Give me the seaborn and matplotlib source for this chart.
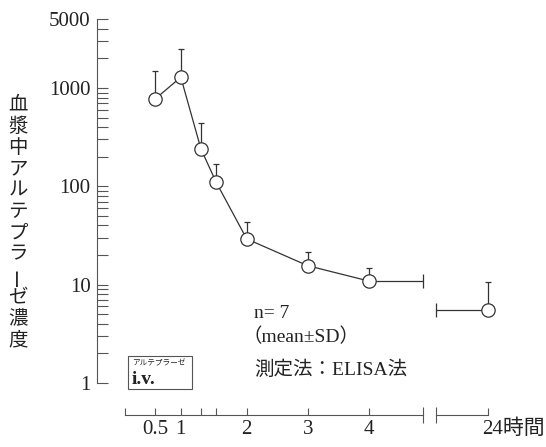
import numpy as np
import matplotlib
matplotlib.use("Agg")
import matplotlib.pyplot as plt
from matplotlib.patches import Rectangle
from matplotlib.ticker import FixedLocator, NullFormatter
import seaborn as sns

# ---- data ----
times = [0.5, 0.92, 1.25, 1.5, 2, 3, 4]            # hours
conc = [774, 1288, 240, 110, 29.2, 15.6, 10.9]      # plasma concentration
conc_sd = [708, 1195, 198, 60, 13.9, 5.8, 3.8]
times_24 = [24]
conc_24 = [5.53]
conc_24_sd = [5.07]

x_tick_pos = [0, 0.5, 0.92, 1.25, 1.5, 2, 3, 4]
x_tick_labels = ["", "0.5", "1", "", "", "2", "3", "4"]
y_tick_pos = [1, 10, 100, 1000, 5000]
y_tick_labels = ["1", "10", "100", "1000", "5000"]
y_minor = [2, 3, 4, 5, 6, 7, 8, 9, 20, 30, 40, 50, 60, 70, 80, 90,
           200, 300, 400, 500, 600, 700, 800, 900, 2000, 3000, 4000]
ylabel_text = "血漿中アルテプラーゼ濃度"
notes = ["n= 7", "（mean±SD）", "測定法：ELISA法"]
break_left, break_right = 4.885, 23.1

sns.set_theme(style="white")
plt.rcParams["font.family"] = ["Liberation Serif", "Noto Sans CJK JP"]

LINE = "#333333"
AXC = "#555555"
TXT = "#222222"

W, H = 546, 447
fig = plt.figure(figsize=(W / 100, H / 100), dpi=100)
fig.patch.set_facecolor("white")

bottom = (H - 383) / H
height = (383 - 19.3) / H
ax = fig.add_axes([96.7 / W, bottom, (429.7 - 96.7) / W, height])
ax2 = fig.add_axes([430 / W, bottom, 70 / W, height])
for a in (ax, ax2):
    a.set_facecolor("none")
    a.set_yscale("log")
    a.set_ylim(1, 5000)
    a.spines["top"].set_visible(False)
    a.spines["right"].set_visible(False)
    a.spines["bottom"].set_position(("outward", 23.0))
    a.spines["bottom"].set_color(AXC)
    a.spines["bottom"].set_linewidth(0.8)
    a.spines["left"].set_color(AXC)
    a.spines["left"].set_linewidth(0.8)

ax.set_xlim(-0.459, 5.0)
ax2.set_xlim(23.0, 23.0 + 70 / 58.4)
ax2.spines["left"].set_visible(False)
ax.spines["bottom"].set_bounds(0, break_left)
ax2.spines["bottom"].set_bounds(break_right, 24)

# error bars (upper only)
ax.errorbar(times, conc, yerr=[np.zeros(len(conc)), conc_sd], fmt="none",
            ecolor=LINE, elinewidth=0.9, capsize=2.4, capthick=0.9, zorder=2)
ax2.errorbar(times_24, conc_24, yerr=[np.zeros(1), conc_24_sd], fmt="none",
             ecolor=LINE, elinewidth=0.9, capsize=2.4, capthick=0.9, zorder=2)

# break continuation lines
ax.plot([times[-1], break_left], [conc[-1], conc[-1]], color=LINE, lw=0.9, zorder=2)
ax.plot([break_left], [conc[-1]], marker="|", ms=9.4, mew=0.9, color=LINE, zorder=2)
ax2.plot([break_right, times_24[0]], [conc_24[0], conc_24[0]], color=LINE, lw=0.9, zorder=2)
ax2.plot([break_right], [conc_24[0]], marker="|", ms=9.4, mew=0.9, color=LINE, zorder=2)

# series
sns.lineplot(x=times, y=conc, ax=ax, color=LINE, linewidth=0.9, marker="o",
             markersize=9.6, markerfacecolor="white", markeredgecolor=LINE,
             markeredgewidth=0.9, zorder=3)
sns.lineplot(x=times_24, y=conc_24, ax=ax2, color=LINE, linewidth=0.9, marker="o",
             markersize=9.6, markerfacecolor="white", markeredgecolor=LINE,
             markeredgewidth=0.9, zorder=3)

# y axis ticks
ax.yaxis.set_major_locator(FixedLocator(y_tick_pos))
ax.set_yticklabels(y_tick_labels)
ax.yaxis.set_minor_locator(FixedLocator(y_minor))
ax.yaxis.set_minor_formatter(NullFormatter())
ax.tick_params(axis="y", which="both", direction="in", length=8, width=0.8,
               color=AXC, labelsize=15, labelcolor=TXT, pad=4.5, left=True)
ax2.tick_params(axis="y", which="both", left=False, labelleft=False)

# x axis ticks
ax.xaxis.set_major_locator(FixedLocator(x_tick_pos))
ax.set_xticklabels(x_tick_labels)
ax.xaxis.set_minor_locator(FixedLocator([break_left]))
ax.tick_params(axis="x", which="major", direction="in", length=4.8, width=0.8,
               color=AXC, labelsize=15, labelcolor=TXT, pad=4, bottom=True)
ax.tick_params(axis="x", which="minor", direction="inout", length=11.5, width=0.8,
               color=AXC, bottom=True)
ax2.xaxis.set_major_locator(FixedLocator([24]))
ax2.set_xticklabels([""])
ax2.xaxis.set_minor_locator(FixedLocator([break_right]))
ax2.tick_params(axis="x", which="major", direction="in", length=4.8, width=0.8,
                color=AXC, bottom=True)
ax2.tick_params(axis="x", which="minor", direction="inout", length=11.5, width=0.8,
                color=AXC, bottom=True)
ax.set_xlabel("")
ax.set_ylabel("")
ax2.set_xlabel("")
ax2.set_ylabel("")

fig.text(481.7 / W, 1 - 429.5 / H, "24時間", ha="left", va="center",
         fontsize=15, color=TXT)

# vertical y label
for i, ch in enumerate(ylabel_text):
    yc = 105 + i * 21.45
    fig.text(18 / W, 1 - yc / H, ch, ha="center", va="center", fontsize=14,
             color=TXT, rotation=(90 if ch == "ー" else 0))

# notes
fig.text(254 / W, 1 - 313 / H, notes[0], ha="left", va="center", fontsize=14, color=TXT)
fig.text(243 / W, 1 - 337 / H, notes[1], ha="left", va="center", fontsize=14, color=TXT)
fig.text(254 / W, 1 - 370 / H, notes[2], ha="left", va="center", fontsize=14, color=TXT)

# i.v. box
fig.patches.append(Rectangle((128 / W, 1 - 389 / H), 64 / W, 33 / H,
                             transform=fig.transFigure, fill=False,
                             edgecolor=AXC, linewidth=0.8))
fig.text(132 / W, 1 - 363.5 / H, "アルテプラーゼ", ha="left", va="center",
         fontsize=5.5, color=TXT)
fig.text(132 / W, 1 - 380 / H, "i.v.", ha="left", va="center",
         fontsize=14, fontweight="bold", color=TXT)

fig.savefig("out.png", dpi=100, facecolor="white")
